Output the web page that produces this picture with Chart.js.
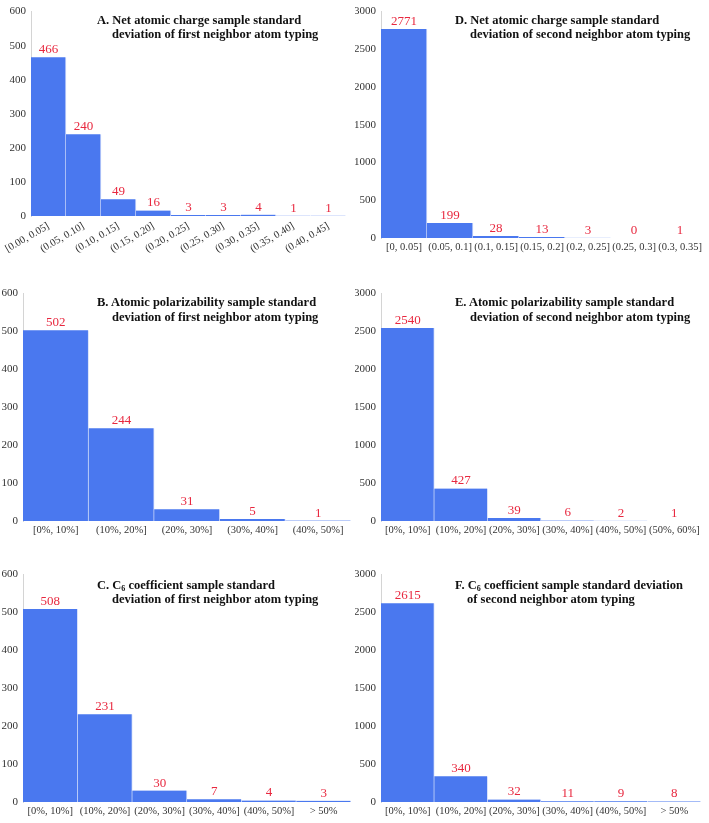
<!DOCTYPE html>
<html>
<head>
<meta charset="utf-8">
<script src="https://cdn.jsdelivr.net/npm/chart.js@4.4.1/dist/chart.umd.min.js"></script>
<style>
    body { margin: 0; background: #fff; }
    #page { position: relative; width: 709px; height: 823px; overflow: hidden; }
    canvas { position: absolute; }
    .ttl {
        position: absolute;
        font: bold 12.5px "Liberation Serif", "Times New Roman", serif;
        line-height: 14px;
        color: #111;
        white-space: nowrap;
    }
    .ttl sub { font-size: 8px; vertical-align: -2px; line-height: 0; }
</style>
</head>
<body>
<div id="page">
    <canvas id="chartA" width="354" height="255" style="left:0;top:0"></canvas>
    <canvas id="chartD" width="354" height="255" style="left:355px;top:0"></canvas>
    <canvas id="chartB" width="354" height="262" style="left:0;top:280px"></canvas>
    <canvas id="chartE" width="354" height="262" style="left:355px;top:280px"></canvas>
    <canvas id="chartC" width="354" height="263" style="left:0;top:560px"></canvas>
    <canvas id="chartF" width="354" height="263" style="left:355px;top:560px"></canvas>

    <div class="ttl" style="left:97px;top:13px">A. Net atomic charge sample standard</div>
    <div class="ttl" style="left:112px;top:27px">deviation of first neighbor atom typing</div>
    <div class="ttl" style="left:455px;top:13px">D. Net atomic charge sample standard</div>
    <div class="ttl" style="left:470px;top:27px">deviation of second neighbor atom typing</div>

    <div class="ttl" style="left:97px;top:295px">B. Atomic polarizability sample standard</div>
    <div class="ttl" style="left:112px;top:310px">deviation of first neighbor atom typing</div>
    <div class="ttl" style="left:455px;top:295px">E. Atomic polarizability sample standard</div>
    <div class="ttl" style="left:470px;top:310px">deviation of second neighbor atom typing</div>

    <div class="ttl" style="left:97px;top:578px">C. C<sub>6</sub> coefficient sample standard</div>
    <div class="ttl" style="left:112px;top:592px">deviation of first neighbor atom typing</div>
    <div class="ttl" style="left:455px;top:578px">F. C<sub>6</sub> coefficient sample standard deviation</div>
    <div class="ttl" style="left:467px;top:592px">of second neighbor atom typing</div>
</div>
<script>
// categorias y valores de cada panel
const catsA = ['[0.00, 0.05]', '(0.05, 0.10]', '(0.10, 0.15]', '(0.15, 0.20]', '(0.20, 0.25]', '(0.25, 0.30]', '(0.30, 0.35]', '(0.35, 0.40]', '(0.40, 0.45]'];
const valsA = [466, 240, 49, 16, 3, 3, 4, 1, 1];

const catsD = ['[0, 0.05]', '(0.05, 0.1]', '(0.1, 0.15]', '(0.15, 0.2]', '(0.2, 0.25]', '(0.25, 0.3]', '(0.3, 0.35]'];
const valsD = [2771, 199, 28, 13, 3, 0, 1];

const catsB = ['[0%, 10%]', '(10%, 20%]', '(20%, 30%]', '(30%, 40%]', '(40%, 50%]'];
const valsB = [502, 244, 31, 5, 1];

const catsE = ['[0%, 10%]', '(10%, 20%]', '(20%, 30%]', '(30%, 40%]', '(40%, 50%]', '(50%, 60%]'];
const valsE = [2540, 427, 39, 6, 2, 1];

const catsC = ['[0%, 10%]', '(10%, 20%]', '(20%, 30%]', '(30%, 40%]', '(40%, 50%]', '> 50%'];
const valsC = [508, 231, 30, 7, 4, 3];

const catsF = ['[0%, 10%]', '(10%, 20%]', '(20%, 30%]', '(30%, 40%]', '(40%, 50%]', '> 50%'];
const valsF = [2615, 340, 32, 11, 9, 8];

// ejes Y
const yFirst = { max: 600, step: 100 };
const ySecond = { max: 3000, step: 500 };

const serif = '"Liberation Serif", "Times New Roman", serif';
const barBlue = '#4a78ef';
const labelRed = '#e8283f';

// etiquetas rojas encima de cada barra
const valueLabels = {
    id: 'valueLabels',
    afterDatasetsDraw(chart) {
        const ctx = chart.ctx;
        const meta = chart.getDatasetMeta(0);
        const data = chart.data.datasets[0].data;
        ctx.save();
        ctx.font = '13px ' + serif;
        ctx.fillStyle = labelRed;
        ctx.textAlign = 'center';
        ctx.textBaseline = 'bottom';
        meta.data.forEach((bar, i) => {
            ctx.fillText(String(data[i]), bar.x, bar.y - 1);
        });
        ctx.restore();
    }
};

function crearPanel(id, cats, vals, yAxis, box) {
    const ctx = document.getElementById(id);
    new Chart(ctx, {
        type: 'bar',
        data: {
            labels: cats,
            datasets: [{
                data: vals,
                backgroundColor: barBlue,
                borderColor: 'rgba(205,218,250,0.8)',
                borderWidth: { right: 1, left: 0, top: 0, bottom: 0 },
                borderSkipped: false,
                barPercentage: 1,
                categoryPercentage: 1
            }]
        },
        options: {
            responsive: false,
            animation: false,
            layout: { padding: { top: box.top, right: box.right, left: 0, bottom: 0 } },
            plugins: {
                legend: { display: false },
                tooltip: { enabled: false }
            },
            scales: {
                x: {
                    grid: { display: false, drawTicks: false },
                    border: { display: false },
                    ticks: {
                        autoSkip: false,
                        minRotation: box.rot,
                        maxRotation: box.rot,
                        padding: box.rot ? 4 : 3,
                        color: '#333',
                        font: { family: serif, size: 10.5 }
                    },
                    afterFit(scale) { scale.height = box.xh; }
                },
                y: {
                    min: 0,
                    max: yAxis.max,
                    grid: { display: false, drawTicks: false },
                    border: { display: true, color: '#d4d4d4', width: 1 },
                    ticks: {
                        stepSize: yAxis.step,
                        padding: 5,
                        color: '#333',
                        font: { family: serif, size: 11 },
                        callback: (v) => String(v)
                    },
                    afterFit(scale) { scale.width = box.yw; }
                }
            }
        },
        plugins: [valueLabels]
    });
}

crearPanel('chartA', catsA, valsA, yFirst,  { top: 10, right: 8, yw: 31, xh: 39, rot: 30 });
crearPanel('chartD', catsD, valsD, ySecond, { top: 10, right: 6, yw: 26, xh: 17, rot: 0 });
crearPanel('chartB', catsB, valsB, yFirst,  { top: 13, right: 3, yw: 23, xh: 21, rot: 0 });
crearPanel('chartE', catsE, valsE, ySecond, { top: 13, right: 8, yw: 26, xh: 21, rot: 0 });
crearPanel('chartC', catsC, valsC, yFirst,  { top: 14, right: 3, yw: 23, xh: 21, rot: 0 });
crearPanel('chartF', catsF, valsF, ySecond, { top: 14, right: 8, yw: 26, xh: 21, rot: 0 });
</script>
</body>
</html>
